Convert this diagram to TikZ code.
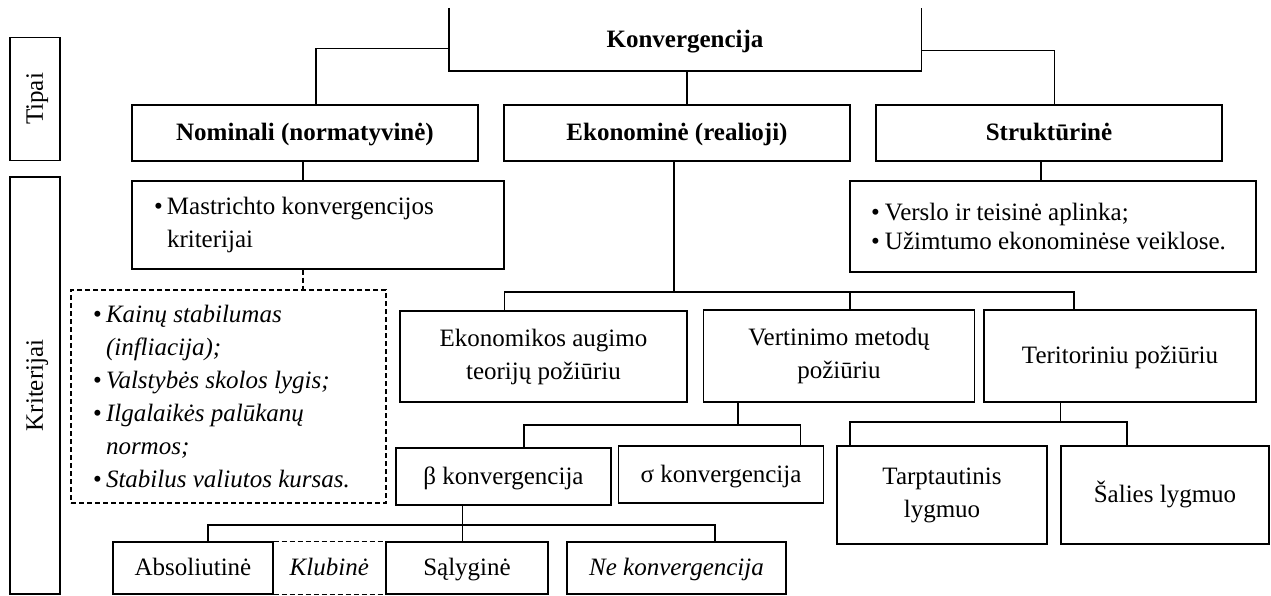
\documentclass[tikz,border=0pt]{standalone}
\usepackage{fontspec}
\setmainfont{Liberation Serif}
\begin{document}
\begin{tikzpicture}[x=1pt,y=-1pt,
  every node/.style={font=\fontsize{25}{33}\selectfont, inner sep=0pt},
  box/.style={draw, line width=1.4pt, align=center},
  one/.style={text height=20pt, text depth=4.5pt},
  con/.style={line width=1.4pt},
  dsh/.style={line width=1.4pt, dash pattern=on 5pt off 3pt},
  bl/.style={align=flush left, inner xsep=22pt}]
\useasboundingbox (0,0) rectangle (1271,596);

% side labels
\node[box, one, rotate=90, minimum width=123pt, minimum height=50pt] (tipai) at (35,99) {Tipai};
\node[box, one, rotate=90, minimum width=417pt, minimum height=50pt] (krit) at (35,385.5) {Kriterijai};

% top
\node[one, minimum width=472pt, minimum height=63pt] (konv) at (685,39.5) {\textbf{Konvergencija}};
\draw[con] (konv.north west) -- (konv.south west) -- (konv.south east) -- (konv.north east);

\node[box, one, minimum width=346pt, minimum height=56pt] (nom) at (305,133) {\textbf{Nominali (normatyvinė)}};
\node[box, one, minimum width=346pt, minimum height=56pt] (eko) at (677,133) {\textbf{Ekonominė (realioji)}};
\node[box, one, minimum width=346pt, minimum height=56pt] (str) at (1049,133) {\textbf{Struktūrinė}};

\node[box, bl, text width=328pt, minimum height=88pt] (mas) at (318,225)
  {\makebox[13pt][l]{\textbullet}Mastrichto konvergencijos\\\hspace*{13pt}kriterijai};
\node[box, bl, font=\fontsize{25}{29}\selectfont, text width=364pt, inner xsep=21pt, minimum height=91pt] (ver) at (1053,226.5)
  {\makebox[14pt][l]{\textbullet}Verslo ir teisinė aplinka;\\\makebox[14pt][l]{\textbullet}Užimtumo ekonominėse veiklose.};

\node[draw, dsh, bl, text width=271pt, minimum height=213pt] (dash) at (228.5,396.5)
  {\makebox[13pt][l]{\textbullet}\textit{Kainų stabilumas}\\
   \hspace*{13pt}\textit{(infliacija);}\\
   \makebox[13pt][l]{\textbullet}\textit{Valstybės skolos lygis;}\\
   \makebox[13pt][l]{\textbullet}\textit{Ilgalaikės palūkanų}\\
   \hspace*{13pt}\textit{normos;}\\
   \makebox[13pt][l]{\textbullet}\textit{Stabilus valiutos kursas.}};

\node[box, minimum width=287pt, minimum height=91pt] (aug) at (543.5,356.5) {Ekonomikos augimo\\teorijų požiūriu};
\node[box, minimum width=271pt, minimum height=92pt] (vert) at (839,356) {Vertinimo metodų\\požiūriu};
\node[box, one, minimum width=272pt, minimum height=92pt] (ter) at (1120,356) {Teritoriniu požiūriu};

\node[box, one, minimum width=215pt, minimum height=57pt] (beta) at (503.5,476.5) {β konvergencija};
\node[box, one, minimum width=205pt, minimum height=57pt] (sigma) at (721,474.5) {σ konvergencija};
\node[box, minimum width=210pt, minimum height=98pt] (tarp) at (942,495) {Tarptautinis\\lygmuo};
\node[box, one, minimum width=208pt, minimum height=98pt] (sal) at (1165,495) {Šalies lygmuo};

\node[box, one, minimum width=160pt, minimum height=52pt] (abs) at (193,568) {Absoliutinė};
\node[box, one, minimum width=162pt, minimum height=52pt] (salyg) at (467,568) {Sąlyginė};
\node[box, one, minimum width=219pt, minimum height=52pt] (ne) at (676.5,568) {\textit{Ne konvergencija}};
\node[one] (klub) at (329.3,568) {\textit{Klubinė}};
\draw[dsh] (abs.north east) -- (salyg.north west);
\draw[dsh] (abs.south east) -- (salyg.south west);

% connectors
\draw[con] ([yshift=-9pt]konv.west) -| ([xshift=11pt]nom.north);
\draw[con] ([yshift=-11pt]konv.east) -| ([xshift=5.5pt]str.north);
\coordinate (ks) at ([xshift=2pt]konv.south);
\draw[con] (ks) -- (ks |- eko.north);
\coordinate (ns) at ([xshift=-2pt]nom.south);
\draw[con] (ns) -- (ns |- mas.north);
\coordinate (ss) at ([xshift=-8pt]str.south);
\draw[con] (ss) -- (ss |- ver.north);
\coordinate (ms) at ([xshift=-15pt]mas.south);
\draw[dsh] (ms) -- (ms |- dash.north);

\coordinate (es) at ([xshift=-3pt]eko.south);
\coordinate (ebus) at (674,292);
\draw[con] (es) -- (ebus);
\coordinate (an) at ([xshift=-39pt]aug.north);
\coordinate (vn) at ([xshift=11pt]vert.north);
\coordinate (tn) at ([xshift=-46pt]ter.north);
\draw[con] (an) |- (tn |- ebus) -- (tn);
\draw[con] (vn) -- (vn |- ebus);

\coordinate (vs) at ([xshift=-101pt]vert.south);
\coordinate (vbus) at (738,425);
\coordinate (bn) at ([xshift=20.5pt]beta.north);
\coordinate (sn) at ([xshift=79.6pt]sigma.north);
\draw[con] (vs) -- (vbus);
\draw[con] (bn) |- (sn |- vbus) -- (sn);

\coordinate (ts) at ([xshift=-59.4pt]ter.south);
\coordinate (tbus) at (1060.6,422);
\coordinate (tpn) at ([xshift=-92pt]tarp.north);
\coordinate (sln) at ([xshift=-38pt]sal.north);
\draw[con] (ts) -- (tbus);
\draw[con] (tpn) |- (sln |- tbus) -- (sln);

\coordinate (bs) at ([xshift=-41pt]beta.south);
\draw[con] (bs) -- (bs |- salyg.north);
\coordinate (abn) at ([xshift=15pt]abs.north);
\coordinate (nen) at ([xshift=38.5pt]ne.north);
\coordinate (bbus) at (462.5,525);
\draw[con] (abn) |- (nen |- bbus) -- (nen);
\end{tikzpicture}
\end{document}
